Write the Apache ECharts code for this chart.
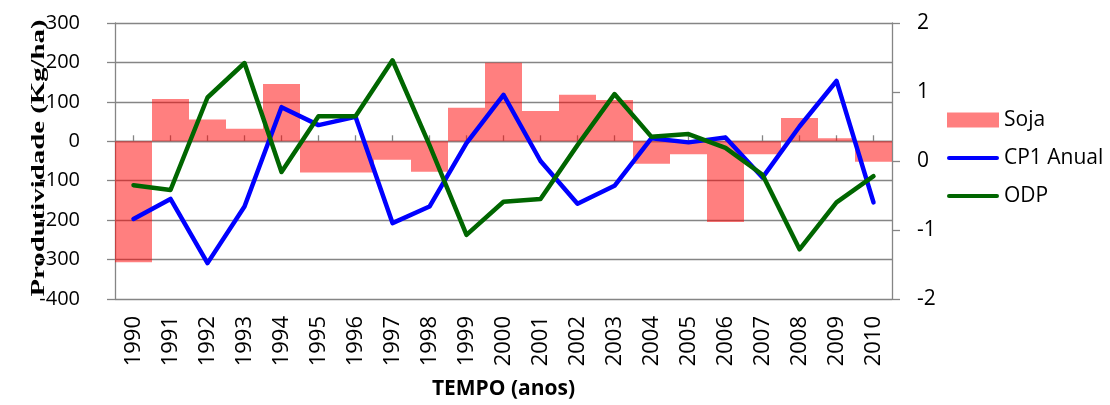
<!DOCTYPE html>
<html>
<head>
<meta charset="utf-8">
<script src="https://cdn.jsdelivr.net/npm/echarts@6/dist/echarts.min.js"></script>
<style>
html,body{margin:0;padding:0;background:#fff;}
#chart{width:1110px;height:405px;}
</style>
</head>
<body>
<div id="chart"></div>
<script>
var years = ['1990','1991','1992','1993','1994','1995','1996','1997','1998','1999','2000','2001','2002','2003','2004','2005','2006','2007','2008','2009','2010'];
var soja = [-307, 107, 55, 32, 145, -79, -79, -47, -77, 85, 199, 77, 118, 105, -57, -33, -205, -33, 59, 8, -52];
var cp1Anual = [-0.84, -0.55, -1.48, -0.66, 0.78, 0.52, 0.64, -0.90, -0.66, 0.26, 0.96, 0.00, -0.62, -0.36, 0.33, 0.27, 0.34, -0.24, 0.50, 1.16, -0.60];
var odp = [-0.35, -0.42, 0.92, 1.42, -0.16, 0.65, 0.65, 1.46, 0.23, -1.07, -0.59, -0.55, 0.23, 0.97, 0.35, 0.39, 0.19, -0.20, -1.28, -0.60, -0.22];
var seriesNames = ['Soja', 'CP1 Anual', 'ODP'];
var yAxisTitle = 'Produtividade (Kg/ha)';
var xAxisTitle = 'TEMPO (anos)';

var gray = '#858585';
var sans = '"Open Sans", "Liberation Sans", sans-serif';
var lineIcon = 'path://M2,0 H50 A2,2 0 0 1 50,4 H2 A2,2 0 0 1 2,0 Z';
var chart = echarts.init(document.getElementById('chart'), null, {renderer: 'canvas'});
chart.setOption({
  animation: false,
  backgroundColor: '#ffffff',
  grid: {left: 115, right: 218, top: 23, bottom: 102, containLabel: false},
  legend: {
    orient: 'vertical', left: 942, top: 103, itemWidth: 52, itemHeight: 15, itemGap: 14,
    symbolKeepAspect: true,
    textStyle: {fontFamily: sans, fontSize: 21, color: '#000', lineHeight: 24},
    data: [
      {name: seriesNames[0], icon: 'rect'},
      {name: seriesNames[1], icon: lineIcon},
      {name: seriesNames[2], icon: lineIcon}
    ]
  },
  graphic: [{
    type: 'text', x: 39, y: 158, rotation: Math.PI / 2, scaleX: 1.6,
    style: {text: yAxisTitle, fontFamily: '"Liberation Serif", "Times New Roman", serif', fontWeight: 'bold', fontSize: 18, fill: '#000', align: 'center', verticalAlign: 'middle'}
  }],
  xAxis: [{
    type: 'category', data: years, position: 'bottom',
    axisLine: {show: false, onZero: false},
    axisTick: {show: false},
    axisLabel: {rotate: 90, margin: 17, fontFamily: sans, fontSize: 22, color: '#000', interval: 0},
    name: xAxisTitle, nameLocation: 'middle', nameGap: 80,
    nameTextStyle: {fontFamily: sans, fontWeight: 'bold', fontSize: 21, color: '#000'}
  }, {
    type: 'category', data: years, position: 'bottom',
    axisLine: {show: true, onZero: true, lineStyle: {color: gray, width: 1.3}},
    axisTick: {show: true, inside: true, length: 6, alignWithLabel: true, lineStyle: {color: gray, width: 1.3}},
    axisLabel: {show: false}
  }],
  yAxis: [{
    type: 'value', min: -400, max: 300, interval: 100, position: 'left',
    axisLine: {show: true, lineStyle: {color: gray, width: 1.3}},
    axisTick: {show: true, length: 8, lineStyle: {color: gray, width: 1.3}},
    splitLine: {show: true, lineStyle: {color: gray, width: 1.3}},
    axisLabel: {margin: 35, fontFamily: sans, fontSize: 20, color: '#000'}
  }, {
    type: 'value', min: -2, max: 2, interval: 1, position: 'right',
    axisLine: {show: true, lineStyle: {color: gray, width: 1.3}},
    axisTick: {show: true, length: 8, lineStyle: {color: gray, width: 1.3}},
    splitLine: {show: false},
    axisLabel: {margin: 25, fontFamily: sans, fontSize: 21, color: '#000'}
  }],
  series: [{
    name: seriesNames[0], type: 'bar', data: soja, xAxisIndex: 0, yAxisIndex: 0,
    barCategoryGap: '0%', itemStyle: {color: 'rgba(255,0,0,0.5)'}
  }, {
    name: seriesNames[1], type: 'line', data: cp1Anual, xAxisIndex: 0, yAxisIndex: 1,
    symbol: 'none', lineStyle: {color: '#0000ff', width: 4.5, cap: 'round', join: 'round'}, itemStyle: {color: '#0000ff'}
  }, {
    name: seriesNames[2], type: 'line', data: odp, xAxisIndex: 0, yAxisIndex: 1,
    symbol: 'none', lineStyle: {color: '#006600', width: 4.5, cap: 'round', join: 'round'}, itemStyle: {color: '#006600'}
  }]
});
</script>
</body>
</html>
